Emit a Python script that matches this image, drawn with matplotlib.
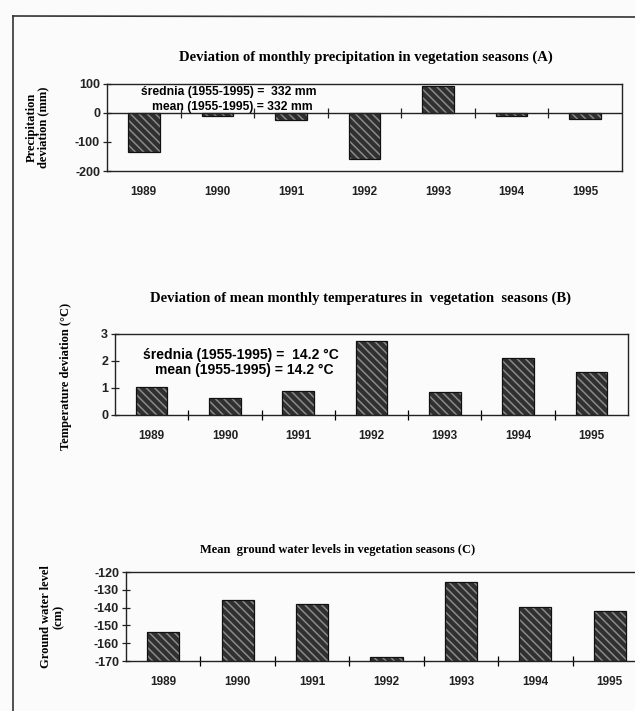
import matplotlib
matplotlib.use('Agg')
import matplotlib.pyplot as plt
from matplotlib.lines import Line2D

# dane
years = ['1989', '1990', '1991', '1992', '1993', '1994', '1995']
precip_dev = [-133, -9, -24, -158, 92, -11, -20]          # mm
temp_dev = [1.01, 0.63, 0.88, 2.74, 0.84, 2.11, 1.59]     # st. C
ground_water = [-153.5, -135.5, -138, -168, -125.5, -139.5, -142]  # cm

titles = ['Deviation of monthly precipitation in vegetation seasons (A)',
          'Deviation of mean monthly temperatures in  vegetation  seasons (B)',
          'Mean  ground water levels in vegetation seasons (C)']
notes_a = ['średnia (1955-1995) =  332 mm', 'mean (1955-1995) = 332 mm']
notes_b = ['średnia (1955-1995) =  14.2 °C', 'mean (1955-1995) = 14.2 °C']

plt.rcParams['hatch.linewidth'] = 1.1
plt.rcParams['axes.unicode_minus'] = False
serif = 'Liberation Serif'
sans = 'Liberation Sans'

fig = plt.figure(figsize=(6.35, 7.11), dpi=100, facecolor='#fbfbfb')

W, H = 635, 711


def box(l, t, r, b):
    return [l / W, 1 - b / H, (r - l) / W, (b - t) / H]


def bars(ax, vals, base=0):
    x = range(len(vals))
    h = [v - base for v in vals]
    ax.bar(x, h, bottom=base, width=0.43, color='#303030', edgecolor='#8a8a8a',
           hatch='\\\\\\\\', linewidth=0, zorder=2)
    ax.bar(x, h, bottom=base, width=0.43, fill=False, edgecolor='#111111',
           linewidth=0.9, zorder=3)


def style(ax):
    ax.set_facecolor('none')
    ax.set_xlim(-0.5, len(years) - 0.5)
    ax.set_xticks(range(len(years)))
    ax.set_xticklabels(years, fontfamily=sans, fontweight='bold', fontsize=8.5, color='#222222')
    ax.tick_params(axis='x', which='major', length=0, pad=11)
    ax.tick_params(axis='y', direction='inout', length=6, width=0.9, pad=2,
                   labelsize=9, colors='#222222')
    for lab in ax.get_yticklabels():
        lab.set_fontfamily(sans)
        lab.set_fontweight('bold')
    for s in ax.spines.values():
        s.set_color('#222222')
        s.set_linewidth(1.0)


# --- panel A ---
axA = fig.add_axes(box(107, 84, 622, 171))
bars(axA, precip_dev)
axA.set_ylim(-200, 100)
axA.set_yticks([-200, -100, 0, 100])
style(axA)
axA.axhline(0, color='#222222', lw=1.0, zorder=4)
axA.plot([i + 0.5 for i in range(len(years) - 1)], [0] * (len(years) - 1), ls='none',
         marker='|', ms=7, mew=0.9, color='#222222', zorder=4)
axA.set_ylabel('Precipitation\ndeviation (mm)', fontfamily=serif, fontweight='bold',
               fontsize=9, linespacing=1.0)
axA.yaxis.set_label_coords(-0.112, 0.5)
axA.text(1.15, 73, notes_a[0], ha='center', va='center', fontfamily=sans,
         fontweight='bold', fontsize=8.7)
axA.text(1.2, 21, notes_a[1], ha='center', va='center', fontfamily=sans,
         fontweight='bold', fontsize=8.7)

# --- panel B ---
axB = fig.add_axes(box(115, 334, 628, 414.5))
bars(axB, temp_dev)
axB.set_ylim(0, 3)
axB.set_yticks([0, 1, 2, 3])
style(axB)
axB.set_xticks([i + 0.5 for i in range(len(years) - 1)], minor=True)
axB.tick_params(axis='x', which='minor', direction='inout', length=7, width=0.9)
axB.set_ylabel('Temperature deviation (°C)', fontfamily=serif, fontweight='bold',
               fontsize=9)
axB.yaxis.set_label_coords(-0.084, 0.47)
axB.text(1.22, 2.21, notes_b[0], ha='center', va='center', fontfamily=sans,
         fontweight='bold', fontsize=10)
axB.text(1.27, 1.66, notes_b[1], ha='center', va='center', fontfamily=sans,
         fontweight='bold', fontsize=10)

# --- panel C ---
axC = fig.add_axes(box(126, 572, 647, 661))
bars(axC, ground_water, base=-170)
axC.set_ylim(-170, -120)
axC.set_yticks(range(-170, -119, 10))
style(axC)
axC.set_xticks([i + 0.5 for i in range(len(years) - 1)], minor=True)
axC.tick_params(axis='x', which='minor', direction='inout', length=7, width=0.9)
axC.set_ylabel('Ground water level\n(cm)', fontfamily=serif, fontweight='bold',
               fontsize=9, linespacing=1.1)
axC.yaxis.set_label_coords(-0.118, 0.5)

# tytuly
fig.text(366 / W, 1 - 57 / H, titles[0], ha='center', va='center', fontfamily=serif,
         fontweight='bold', fontsize=10.5)
fig.text(360 / W, 1 - 298 / H, titles[1], ha='center', va='center', fontfamily=serif,
         fontweight='bold', fontsize=10.5)
fig.text(338 / W, 1 - 550 / H, titles[2], ha='center', va='center', fontfamily=serif,
         fontweight='bold', fontsize=9)

# ramka strony
fig.add_artist(Line2D([13 / W, 13 / W], [0, 1 - 16 / H], color='#333333', lw=1.2))
fig.add_artist(Line2D([13 / W, 1], [1 - 16 / H, 1 - 17 / H], color='#333333', lw=1.2))

fig.savefig('out.png', dpi=100, facecolor=fig.get_facecolor())
